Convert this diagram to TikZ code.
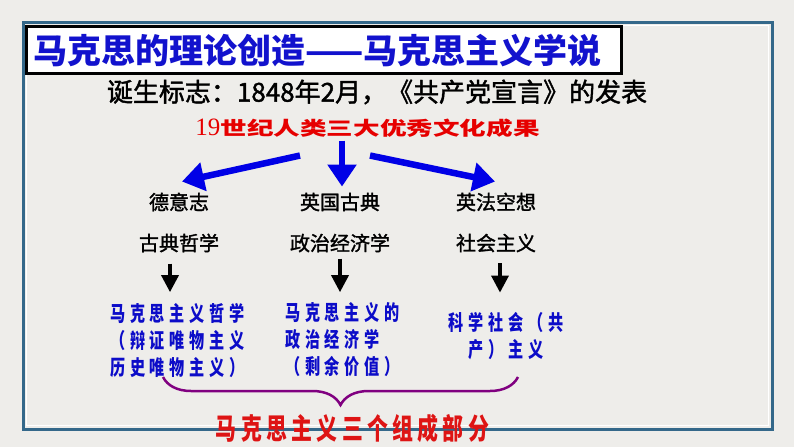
\documentclass[tikz,border=0pt]{standalone}
\usepackage{fontspec}
\setmainfont{Noto Sans CJK SC}
\newfontfamily\cjkhei[FakeBold=1.5]{Noto Sans CJK SC}
\newfontfamily\cjkcond[FakeStretch=0.72,LetterSpace=23]{Noto Sans CJK SC}
\newfontfamily\cjkparts[FakeStretch=0.72,LetterSpace=15]{Noto Sans CJK SC}
\newfontfamily\cjkwide[FakeStretch=1.4]{Noto Sans CJK SC}
\newfontfamily\numserif{Liberation Serif}
\usetikzlibrary{arrows.meta,decorations.pathreplacing}
\definecolor{paper}{RGB}{238,237,234}
\definecolor{framecol}{RGB}{52,104,138}
\definecolor{titleblue}{RGB}{18,18,205}
\definecolor{headred}{RGB}{230,0,0}
\definecolor{textblue}{RGB}{12,12,200}
\definecolor{arrowblue}{RGB}{0,0,230}
\definecolor{bracepurple}{RGB}{128,0,128}
\definecolor{partsred}{RGB}{222,20,20}
\tikzstyle{rowlabel} = [anchor=center, inner sep=0pt, font=\cjkhei\fontsize{20}{24}\selectfont]
\tikzstyle{block} = [anchor=center, inner sep=0pt, align=left, text=textblue, font=\cjkcond\bfseries\fontsize{21}{27}\selectfont]
\tikzstyle{bluearrow} = [draw=arrowblue, line width=6.5pt, -{Triangle[length=22pt,width=28pt]}]
\tikzstyle{downarrow} = [draw=black, line width=3.5pt, -{Triangle[length=17pt,width=17pt]}]
\tikzset{font={\small}}

\begin{document}
\begin{tikzpicture}[x=1pt, y=-1pt]
  \fill[paper] (0,0) rectangle (794,447);
  \useasboundingbox (0,0) rectangle (794,447);

  % frame
  \draw[framecol, line width=3pt] (23,22) rectangle (772,429);
  \draw[white, line width=1.2pt] (26.5,25.5) rectangle (768.5,425.5);

  % title
  \node (title) [at={(25,25)}, anchor=north west, draw=black, line width=3pt, fill=white,
    minimum width=595pt, minimum height=47pt, inner xsep=7pt, text width=581pt, align=left,
    text=titleblue, font=\bfseries\fontsize{34}{40}\selectfont] {\mbox{马克思的理论创造——马克思主义学说}};
  \node (birth) [at={(377,92)}, inner sep=0pt, font=\cjkhei\fontsize{26}{30}\selectfont] {诞生标志：1848年2月，《共产党宣言》的发表};
  \node (heading) [at={(367.5,128)}, inner sep=0pt, text=headred]
    {{\numserif\fontsize{25}{28}\selectfont 19}{\cjkwide\bfseries\fontsize{19}{24}\selectfont 世纪人类三大优秀文化成果}};

  % three sources
  \node (de) [at={(179,202)}, rowlabel] {德意志};
  \node (ying) [at={(340,202)}, rowlabel] {英国古典};
  \node (yingfa) [at={(496,202)}, rowlabel] {英法空想};
  \node (gudian) [at={(179,243)}, rowlabel] {古典哲学};
  \node (zhengzhi) [at={(340,243)}, rowlabel] {政治经济学};
  \node (shehui) [at={(496,243)}, rowlabel] {社会主义};

  \draw[bluearrow] ([xshift=-67.5pt,yshift=-18pt]heading.south) -- ([xshift=3pt,yshift=11pt]de.north);
  \draw[bluearrow] ([xshift=-25.5pt,yshift=-3pt]heading.south) -- ([xshift=2pt,yshift=6pt]ying.north);
  \draw[bluearrow] ([xshift=2.5pt,yshift=-18pt]heading.south) -- ([xshift=-1pt,yshift=11pt]yingfa.north);

  % three parts
  \node (mkphil) [at={(177.5,340)}, block] {马克思主义哲学\\（辩证唯物主义\\历史唯物主义）};
  \node (mkecon) [at={(342.5,340)}, block] {马克思主义的\\政治经济学\\（剩余价值）};
  \node (mksoc) [at={(506,336.5)}, block, align=center] {科学社会（共\\产）主义};

  \draw[downarrow] ([xshift=-9pt,yshift=-11pt]gudian.south) -- ([xshift=-7.5pt,yshift=10.5pt]mkphil.north);
  \draw[downarrow] ([yshift=-6pt]zhengzhi.south) -- ([xshift=-2.5pt,yshift=10.5pt]mkecon.north);
  \draw[downarrow] ([xshift=4pt,yshift=-11pt]shehui.south) -- ([xshift=-6pt,yshift=20pt]mksoc.north);

  % brace
  \coordinate (braceR) at (518,377);
  \coordinate (braceL) at (163,377);
  \draw[bracepurple, line width=2.5pt, decorate, decoration={brace, amplitude=28pt, aspect=0.5}] (braceR) -- (braceL);
  \node (parts) [at={(352.5,428)}, inner sep=0pt, text=partsred,
    font=\cjkparts\bfseries\fontsize{29}{32}\selectfont] {马克思主义三个组成部分};
\end{tikzpicture}
\end{document}
